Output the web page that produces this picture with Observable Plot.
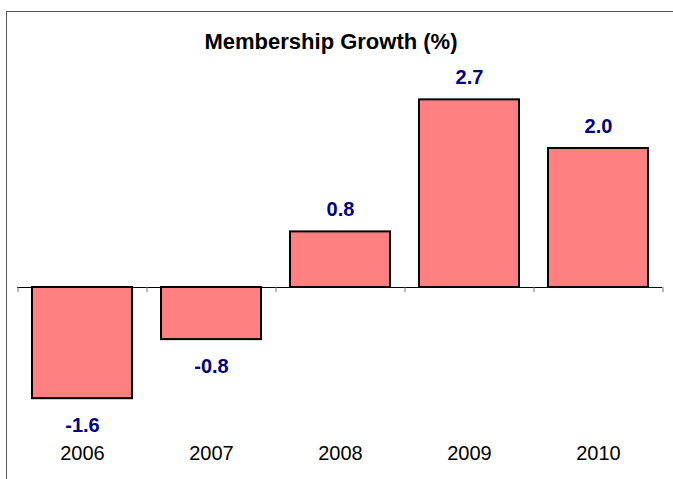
<!DOCTYPE html>
<html>
<head>
<meta charset="utf-8">
<script src="https://cdn.jsdelivr.net/npm/d3@7"></script>
<script src="https://cdn.jsdelivr.net/npm/@observablehq/plot@0.6"></script>
<style>
  html, body { margin: 0; padding: 0; background: #fff; overflow: hidden; }
  #wrap { position: relative; width: 673px; height: 479px; overflow: hidden; }
  #frame { position: absolute; left: 6px; top: 11px; width: 800px; height: 600px;
           border-left: 1px solid #555; border-top: 1px solid #555; }
  #chart { position: absolute; left: 0; top: 0; }
</style>
</head>
<body>
<div id="wrap"><div id="frame"></div><div id="chart"></div></div>
<script>
const title = "Membership Growth (%)";
const years = ["2006", "2007", "2008", "2009", "2010"];
const growth = [-1.6, -0.75, 0.8, 2.7, 2.0];

const data = years.map((y, i) => ({year: y, value: growth[i]}));
const step = (662 - 17) / years.length;
const labelStyle = {x: "year", y: "value", text: d => d.value.toFixed(1), lineAnchor: "bottom",
  fill: "#000080", fontWeight: "bold", fontSize: 20};

const chart = Plot.plot({
  width: 673,
  height: 479,
  marginLeft: 17,
  marginRight: 11,
  marginTop: 48,
  marginBottom: 39,
  style: {fontFamily: "Liberation Sans, Arial, sans-serif", background: "transparent"},
  x: {domain: years, paddingInner: 0.225, paddingOuter: 0.1125, label: null},
  y: {domain: [-2, 3], range: [426, 78.5], axis: null},
  marks: [
    Plot.barY(data, {x: "year", y: "value", fill: "#FF8080", stroke: "#000", strokeWidth: 2}),
    Plot.ruleY([0], {stroke: "#000", strokeWidth: 1}),
    Plot.ruleX(years, {x: d => d, dx: -step / 2, y1: 0, y2: -0.075, stroke: "#777"}),
    Plot.ruleX([years[years.length - 1]], {x: d => d, dx: step / 2, y1: 0, y2: -0.075, stroke: "#777"}),
    Plot.text(data.filter(d => d.value >= 0), {...labelStyle, dy: -16}),
    Plot.text(data.filter(d => d.value < 0), {...labelStyle, dy: 33}),
    Plot.axisX({tickSize: 0, tickPadding: 5, fontSize: 20, label: null, fill: "#000"}),
    Plot.text([title], {frameAnchor: "top", lineAnchor: "bottom", dx: -9, fontSize: 22, fontWeight: "bold", fill: "#000"})
  ]
});

document.getElementById("chart").appendChild(chart);
</script>
</body>
</html>
